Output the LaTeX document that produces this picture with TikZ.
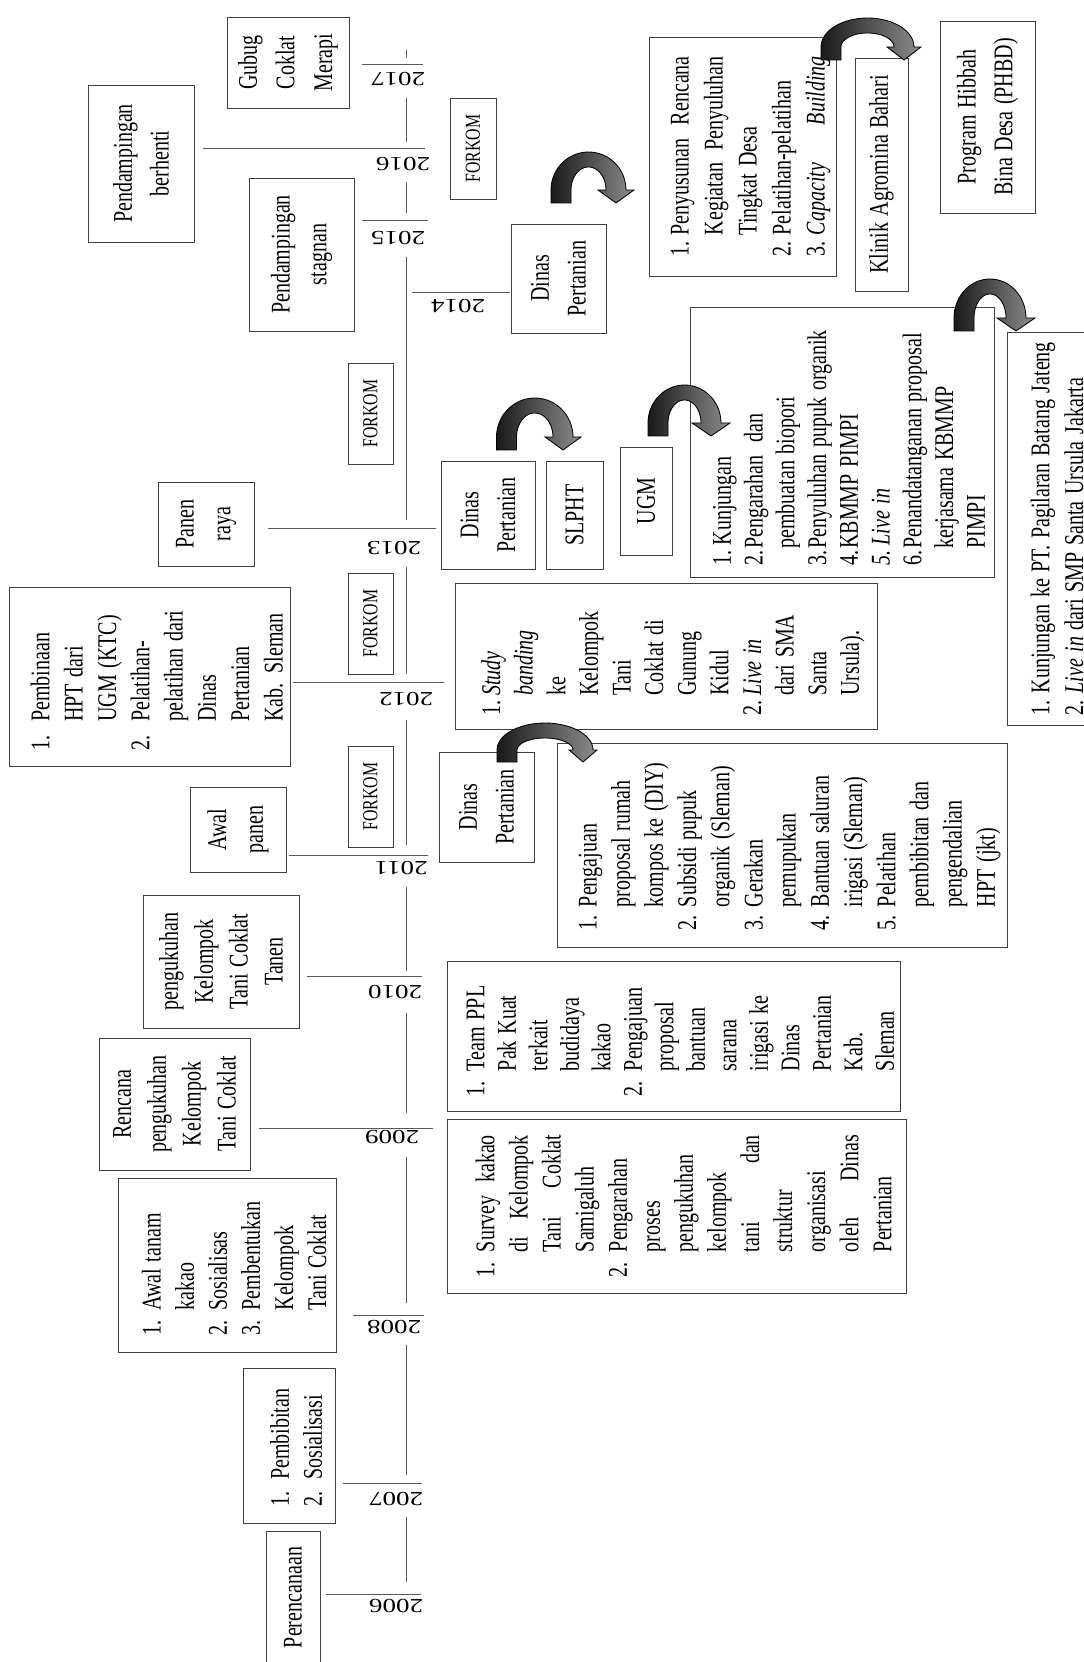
\documentclass[tikz,border=0pt]{standalone}
\usepackage{fontspec}
\setmainfont{Liberation Serif}
\usetikzlibrary{calc}
\def\iw{15pt}
\newcommand\itm[2]{\par\hangindent=\iw\hangafter=1\noindent\hbox to \iw{#1\hfil}{\let\\\newline #2}\par}
\newcommand\tbox[8][]{%
  \pgfmathsetmacro\tbL{(#6-#4)*0.6}%
  \pgfmathsetmacro\tbS{(#5-#3)*0.6/1.35}%
  \pgfmathsetmacro\tbT{\tbL-2*#7}%
  \node[box, minimum width=\tbL pt, minimum height=\tbS pt, text width=\tbT pt, #1] (#2) at ({(#3+#5)/2},{(#4+#6)/2}) {#8};%
}
\newcommand\carrow[6]{%
  \pgfmathsetmacro\carC{(#1+#2)/2}%
  \pgfmathsetmacro\carR{(#2-#1)/2}%
  \path[carr] ({#1-10},#3) -- ({#1-10},#4)
    -- plot[domain=180:360,samples=31] ({\carC+(\carR+10)*cos(\x)},{#4+(#5+7.5)*sin(\x)})
    -- ({#2+#6},#4) -- (#2,#3) -- ({#2-#6},#4)
    -- plot[domain=360:180,samples=31] ({\carC+(\carR-10)*cos(\x)},{#4+(#5-7.5)*sin(\x)})
    -- ({#1+10},#3) -- cycle;
}
\tikzset{
  box/.style={draw=black!75, line width=0.55pt, rotate=90, inner sep=0pt, align=left,
              font=\fontsize{12}{14.6}\selectfont},
  bl/.style={font=\fontsize{12}{#1}\selectfont},
  ctr/.style={align=center, font=\fontsize{12}{16.3}\selectfont},
  fk/.style={align=center, font=\fontsize{9.5}{11}\selectfont},
  yr/.style={rotate=180, inner sep=0pt, font=\fontsize{12}{14}\selectfont},
  tl/.style={draw=black!65, line width=0.6pt},
  carr/.style={draw=black, line width=0.5pt, left color=black!90, right color=black!45},
}
\begin{document}
\begin{tikzpicture}[x=0.444444pt, y=-0.6pt, xscale=1.35, transform shape]
\useasboundingbox (0,0) rectangle (1084,1662);

% ---------- timeline ----------
\foreach \a/\b in {50/58, 98/142, 182/213, 257/520, 567/674, 720/845, 887/971,
                   1013/1113, 1157/1303, 1345/1475, 1517/1582}
  \draw[tl] (406,\a) -- (406,\b);

\node[yr] (y2006) at (396,1606) {2006};
\node[yr] (y2007) at (396,1499) {2007};
\node[yr] (y2008) at (394,1327) {2008};
\node[yr] (y2009) at (392,1137) {2009};
\node[yr] (y2010) at (395,992) {2010};
\node[yr] (y2011) at (401,868) {2011};
\node[yr] (y2012) at (406,699) {2012};
\node[yr] (y2013) at (394,548) {2013};
\node[yr] (y2014) at (458,306) {2014};
\node[yr] (y2015) at (398,238) {2015};
\node[yr] (y2016) at (403,164) {2016};
\node[yr] (y2017) at (398,79) {2017};

% ---------- left boxes ----------
\tbox[ctr]{perenc}{266}{1531}{320}{1664}{9}{Perencanaan}
\tbox[bl=14.7]{pembib}{243}{1368}{335}{1523}{10}{\def\iw{16pt}\itm{1.}{Pembibitan}\itm{2.}{Sosialisasi}}
\tbox[bl=14.7]{awaltanam}{118}{1178}{336}{1352}{10}{%
\itm{1.}{Awal tanam\\kakao}\itm{2.}{Sosialisas}\itm{3.}{Pembentukan\\Kelompok\\Tani Coklat}}
\tbox[ctr, bl=15.5]{rencana}{99}{1038}{250}{1170}{8}{Rencana\\pengukuhan\\Kelompok\\Tani Coklat}
\tbox[ctr, bl=15.5]{pengukuhan}{143}{895}{299}{1028}{8}{pengukuhan\\Kelompok\\Tani Coklat\\Tanen}
\tbox[ctr]{awalpanen}{190}{787}{286}{872}{8}{Awal\\panen}
\tbox[bl=14.8]{pembinaan}{9}{587}{290}{766}{9.6}{\def\iw{17pt}%
\itm{1.}{Pembinaan\\HPT dari\\UGM (KTC)}\itm{2.}{Pelatihan-\\pelatihan dari\\Dinas\\Pertanian\\Kab. Sleman}}
\tbox[ctr]{panenraya}{158}{482}{254}{566}{8}{Panen\\raya}
\tbox[ctr]{stagnan}{249}{178}{354}{331}{8}{Pendampingan\\stagnan}
\tbox[ctr]{berhenti}{88}{85}{194}{242}{8}{Pendampingan\\berhenti}
\tbox[ctr, bl=16.7]{gubug}{227}{17}{349}{108}{6}{Gubug\\Coklat\\Merapi}

% ---------- FORKOM ----------
\tbox[fk]{f1}{348}{746}{393}{847}{6}{FORKOM}
\tbox[fk]{f2}{348}{573}{393}{674}{6}{FORKOM}
\tbox[fk]{f3}{348}{363}{393}{464}{6}{FORKOM}
\tbox[fk]{f4}{450}{98}{496}{199}{6}{FORKOM}

% ---------- right boxes ----------
\tbox[ctr]{dinas11}{439}{752}{534}{862}{6}{Dinas\\Pertanian}
\tbox[bl=14.75]{dinaslist}{557}{743}{1007}{947}{10}{\def\iw{14pt}%
\itm{1.}{Pengajuan\\proposal rumah\\kompos ke (DIY)}%
\itm{2.}{Subsidi pupuk\\organik (Sleman)}%
\itm{3.}{Gerakan\\pemupukan}%
\itm{4.}{Bantuan saluran\\irigasi (Sleman)}%
\itm{5.}{Pelatihan\\pembibitan dan\\pengendalian\\HPT (jkt)}}
\tbox[bl=14.5]{study}{455}{583}{877}{729}{8}{\def\iw{12pt}%
\itm{1.}{\textit{Study}\\\textit{banding}\\ke\\Kelompok\\Tani\\Coklat di\\Gunung\\Kidul}%
\itm{2.}{\textit{Live in}\\dari SMA\\Santa\\Ursula).}}
\tbox[ctr]{dinas13}{441}{461}{535}{569}{6}{Dinas\\Pertanian}
\tbox[ctr]{slpht}{546}{461}{603}{569}{6}{SLPHT}
\tbox[ctr]{ugm}{620}{447}{672}{555}{6}{UGM}
\tbox[bl=14.1]{ugmlist}{690}{307}{994}{577}{7}{\def\iw{10pt}%
\itm{1.}{\,Kunjungan}%
\itm{2.}{Pengarahan~~dan\\pembuatan biopori}%
\itm{3.}{Penyuluhan pupuk organik}%
\itm{4.}{KBMMP PIMPI}%
\itm{\textit{5.}}{\,\textit{Live in}}%
\itm{6.}{Penandatanganan proposal\\kerjasama KBMMP\\PIMPI}}
\tbox[bl=15]{kunjpt}{1007}{332}{1092}{725}{6}{\def\iw{13pt}%
\itm{1.}{Kunjungan ke PT. Pagilaran Batang Jateng}%
\itm{2.}{\textit{Live in} dari SMP Santa Ursula Jakarta}}
\tbox[ctr]{dinas14}{511}{224}{606}{333}{6}{Dinas\\Pertanian}
\tbox[bl=15.1]{penyusunan}{649}{37}{836}{276}{11.5}{\def\iw{13pt}%
\itm{1.}{Penyusunan\hfill Rencana\\Kegiatan\hfill Penyuluhan\\Tingkat Desa}%
\itm{2.}{Pelatihan-pelatihan}%
\itm{3.}{\textit{Capacity}\hfill\textit{Building}}}
\tbox[ctr]{klinik}{855}{58}{908}{291}{6}{Klinik Agromina Bahari}
\tbox[ctr]{phbd}{940}{21}{1035}{213}{6}{Program Hibbah\\Bina Desa (PHBD)}
\tbox[bl=14]{teamppl}{447}{961}{900}{1111}{9}{%
\itm{1.}{Team PPL\\Pak Kuat\\terkait\\budidaya\\kakao}%
\itm{2.}{Pengajuan\\proposal\\bantuan\\sarana\\irigasi ke\\Dinas\\Pertanian\\Kab.\\Sleman}}
\tbox[bl=14.7]{survey}{447}{1119}{906}{1293}{9.6}{%
\itm{1.}{Survey\hfill kakao\\di\hfill Kelompok\\Tani\hfill Coklat\\Samigaluh}%
\itm{2.}{Pengarahan\\proses\\pengukuhan\\kelompok\\tani\hfill dan\\struktur\\organisasi\\oleh\hfill Dinas\\Pertanian}}

% ---------- ticks / connectors ----------
\coordinate (k06) at (421,1594);
\draw[tl, shorten <=3pt] (perenc.south |- k06) -- (k06);
\coordinate (k07) at (422,1483);
\draw[tl, shorten <=4.2pt] (pembib.south |- k07) -- (k07);
\coordinate (k08a) at (353,1315); \coordinate (k08) at (424,1315);
\draw[tl] (k08a) -- (k08);
\coordinate (k09) at (433,1128);
\draw[tl, shorten <=4.8pt] (rencana.south |- k09) -- (k09);
\coordinate (k10) at (422,976);
\draw[tl, shorten <=4.2pt] (pengukuhan.south |- k10) -- (k10);
\coordinate (k11) at (428,855);
\draw[tl, shorten <=1.2pt] (awalpanen.south |- k11) -- (k11);
\coordinate (k12) at (445,682);
\draw[tl, shorten <=1.2pt, shorten >=6pt] (pembinaan.south |- k12) -- (study.north |- k12);
\coordinate (k13) at (437,528);
\draw[tl, shorten <=7.8pt, shorten >=2.4pt] (panenraya.south |- k13) -- (dinas13.north |- k13);
\coordinate (k14) at (412,293);
\draw[tl] (k14) -- (dinas14.north |- k14);
\coordinate (k15) at (428,221);
\draw[tl, shorten <=4.2pt] (stagnan.south |- k15) -- (k15);
\coordinate (k16) at (425,149);
\draw[tl, shorten <=4.8pt] (berhenti.south |- k16) -- (k16);
\coordinate (k17) at (423,65);
\draw[tl, shorten <=7.2pt] (gubug.south |- k17) -- (k17);

% ---------- curved arrows ----------
\carrow{507}{583}{762}{750}{19.5}{14}
\carrow{506.5}{563}{450}{437}{31.5}{18}
\carrow{658}{711}{436}{423}{30.5}{19}
\carrow{561}{616}{203}{190}{30.5}{18}
\carrow{831}{904}{60}{47}{21.5}{17}
\carrow{964}{1016}{331}{318}{31.5}{19}
\end{tikzpicture}
\end{document}
